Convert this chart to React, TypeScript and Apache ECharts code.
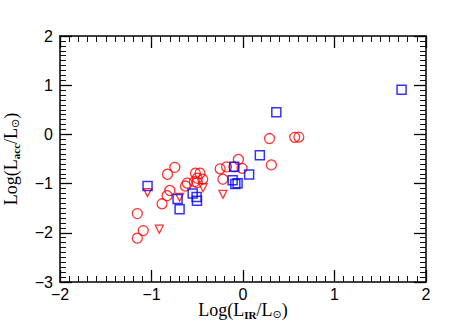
import React, { useEffect, useRef } from "react";
import * as echarts from "echarts";

const circleX = [-1.155, -1.09, -1.155, -0.885, -0.83, -0.8, -0.825, -0.745, -0.63, -0.61, -0.52, -0.47, -0.5, -0.44, -0.53, -0.5, -0.25, -0.18, -0.22, -0.05, -0.1, -0.01, 0.29, 0.31, 0.565, 0.61];
const circleY = [-1.61, -1.955, -2.11, -1.41, -1.245, -1.14, -0.81, -0.67, -1.05, -0.99, -0.79, -0.79, -0.89, -0.91, -0.96, -0.98, -0.7, -0.66, -0.91, -0.51, -0.66, -0.69, -0.085, -0.62, -0.06, -0.055];
const squareX = [1.733, 0.364, 0.184, 0.067, -0.095, -0.113, -0.084, -0.059, -1.043, -0.715, -0.693, -0.55, -0.507, -0.503];
const squareY = [0.905, 0.452, -0.425, -0.815, -0.657, -0.933, -1.008, -0.994, -1.049, -1.312, -1.52, -1.2, -1.27, -1.35];
const triX = [-1.043, -0.915, -0.693, -0.437, -0.219];
const triY = [-1.184, -1.927, -1.278, -1.083, -1.217];

// [min, max, major interval, minor interval]
const xTicks = [-2, 2, 1, 0.1];
const yTicks = [-3, 2, 1, 0.1];

const fmt = (v: number) => (v < 0 ? "\u2212" + Math.abs(v) : String(v));

const zip = (a: number[], b: number[]) => a.map((v, i) => [v, b[i]]);

const richName = {
  n: { fontFamily: "Liberation Serif", fontSize: 18, color: "#000", lineHeight: 20, verticalAlign: "middle" },
  s: { fontFamily: "Liberation Serif", fontSize: 11, fontWeight: "bold", color: "#000", lineHeight: 10, verticalAlign: "bottom" },
  o: { fontFamily: "DejaVu Sans", fontSize: 11, color: "#000", lineHeight: 10, verticalAlign: "bottom" },
};

const labelStyle = { show: true, formatter: fmt, fontFamily: "Liberation Sans", fontSize: 16, color: "#000" };

export default function App() {
  const ref = useRef<HTMLDivElement>(null);
  useEffect(() => {
    if (!ref.current) return;
    const chart = echarts.init(ref.current, undefined, { renderer: "svg" });
    chart.setOption({
      animation: false,
      grid: { left: 60, right: 37, top: 36, bottom: 43, outerBoundsMode: "none" },
      xAxis: [
        {
          type: "value", min: xTicks[0], max: xTicks[1], interval: xTicks[2], position: "bottom",
          axisLine: { show: true, onZero: false, lineStyle: { color: "#000", width: 1.5 } },
          axisTick: { show: true, inside: true, length: 12, lineStyle: { color: "#000", width: 1.3 } },
          splitLine: { show: false },
          axisLabel: { ...labelStyle, margin: 4 },
          name: "{n|Log(L}{s|IR}{n|/L}{o|\u2299}{n|)}",
          nameLocation: "middle",
          nameGap: 18,
          nameMoveOverlap: false,
          nameTextStyle: { rich: richName },
        },
        {
          type: "value", min: xTicks[0], max: xTicks[1], interval: xTicks[2], position: "top",
          axisLine: { show: true, onZero: false, lineStyle: { color: "#000", width: 1.5 } },
          axisTick: { show: true, inside: true, length: 12, lineStyle: { color: "#000", width: 1.3 } },
          axisLabel: { show: false }, splitLine: { show: false },
        },
        {
          type: "value", min: xTicks[0], max: xTicks[1], interval: xTicks[3], position: "bottom",
          axisLine: { show: false, onZero: false },
          axisTick: { show: true, inside: true, length: 6, lineStyle: { color: "#111" } },
          axisLabel: { show: false }, splitLine: { show: false },
        },
        {
          type: "value", min: xTicks[0], max: xTicks[1], interval: xTicks[3], position: "top",
          axisLine: { show: false, onZero: false },
          axisTick: { show: true, inside: true, length: 6, lineStyle: { color: "#111" } },
          axisLabel: { show: false }, splitLine: { show: false },
        },
      ],
      yAxis: [
        {
          type: "value", min: yTicks[0], max: yTicks[1], interval: yTicks[2], position: "left",
          axisLine: { show: true, onZero: false, lineStyle: { color: "#000", width: 1.5 } },
          axisTick: { show: true, inside: true, length: 12, lineStyle: { color: "#000", width: 1.3 } },
          minorTick: { show: true, splitNumber: 10, length: 6, lineStyle: { color: "#111" } },
          splitLine: { show: false },
          axisLabel: { ...labelStyle, margin: 7 },
          name: "{n|Log(L}{s|acc}{n|/L}{o|\u2299}{n|)}",
          nameLocation: "middle",
          nameGap: 39,
          nameMoveOverlap: false,
          nameTextStyle: { rich: richName },
        },
        {
          type: "value", min: yTicks[0], max: yTicks[1], interval: yTicks[2], position: "right",
          axisLine: { show: true, onZero: false, lineStyle: { color: "#000", width: 1.5 } },
          axisTick: { show: true, inside: true, length: 12, lineStyle: { color: "#000", width: 1.3 } },
          minorTick: { show: true, splitNumber: 10, length: 6, lineStyle: { color: "#111" } },
          axisLabel: { show: false }, splitLine: { show: false },
        },
      ],
      series: [
        {
          type: "scatter",
          data: zip(circleX, circleY),
          symbol: "circle",
          symbolSize: 10,
          itemStyle: { color: "transparent", borderColor: "#ff0000", borderWidth: 1.3 },
        },
        {
          type: "scatter",
          data: zip(triX, triY),
          symbol: "triangle",
          symbolRotate: 180,
          symbolSize: 8,
          itemStyle: { color: "transparent", borderColor: "#ff0000", borderWidth: 1.3 },
        },
        {
          type: "scatter",
          data: zip(squareX, squareY),
          symbol: "rect",
          symbolSize: 9,
          itemStyle: { color: "transparent", borderColor: "#0000ff", borderWidth: 1.5 },
        },
      ],
    });
    return () => chart.dispose();
  }, []);
  return <div ref={ref} style={{ width: 463, height: 325, position: "absolute", left: 0, top: 0 }} />;
}
